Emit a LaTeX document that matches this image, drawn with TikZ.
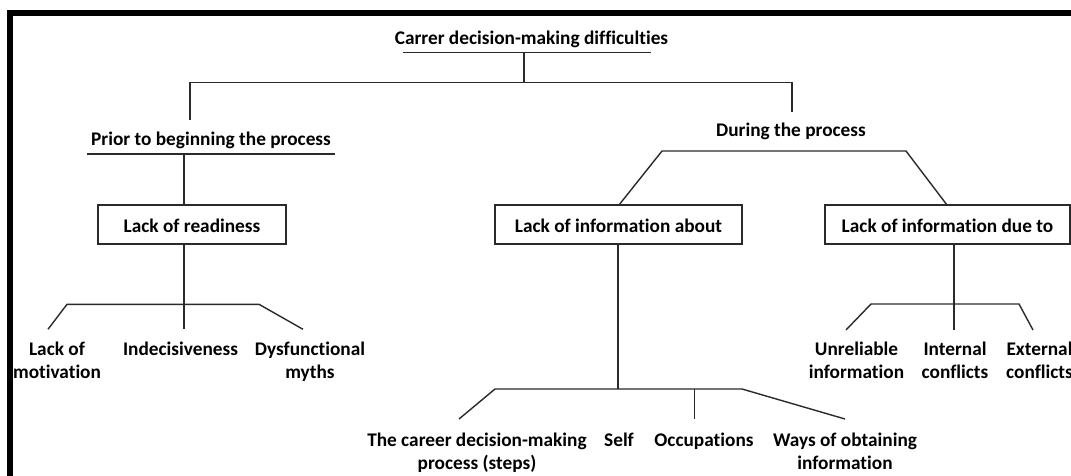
\documentclass[tikz,border=0pt]{standalone}
\usepackage{fontspec}
\setmainfont[Ligatures=NoCommon]{Carlito}
\newcommand{\twol}[2]{\begin{tabular}[t]{@{}c@{}}#1\\#2\end{tabular}}
\definecolor{linec}{HTML}{2A2A2A}
\begin{document}
\begin{tikzpicture}[x=1pt,y=-1pt,
  lbl/.style={inner sep=0pt, anchor=base, text=black, font=\fontsize{19.3}{23}\selectfont\bfseries},
  boxn/.style={lbl, draw=linec, line width=1.4pt, anchor=center, minimum width=#1, minimum height=39pt, text height=15pt, text depth=0pt},
  conn/.style={draw=linec, line width=1.4pt},
  frame/.style={draw=black, line width=6pt}]
\useasboundingbox (0,0) rectangle (1071,476);
\fill[white] (0,0) rectangle (1071,476);
% frame
\coordinate (fB) at (10.3,480);
\coordinate (fC) at (10.3,13.5);
\coordinate (fR) at (1076,13.5);
\draw[frame] (fB) -- (fC) -- (fR);

% root
\node[lbl] (root) at (531.5,45) {Carrer decision-making difficulties};
\coordinate (rU1) at (403,52.7); \coordinate (rU2) at (651,52.7);
\coordinate (rTop) at (524,52.7); \coordinate (rJ) at (524,82.7);
\coordinate (hL) at (190,82.7); \coordinate (hR) at (792,82.7);
\coordinate (pTop) at (190,120); \coordinate (dTop) at (792,112);
\draw[conn] (rU1) -- (rU2);
\draw[conn] (rTop) -- (rJ);
\draw[conn] (pTop) -- (hL) -- (hR) -- (dTop);

% prior branch
\node[lbl] (prior) at (211,146) {Prior to beginning the process};
\coordinate (pU1) at (87,154); \coordinate (pU2) at (335,154); \coordinate (pJ) at (184,154);
\draw[conn] (pU1) -- (pU2);
\node[boxn=188pt] (ready) at (192,224.5) {Lack of readiness};
\draw[conn] (pJ) -- (pJ |- ready.north);
\coordinate (rdJ) at (184,304.3);
\coordinate (rdL) at (67,304.3); \coordinate (rdR) at (259,304.3);
\coordinate (rdLe) at (48,329.3); \coordinate (rdMe) at (184,329.3); \coordinate (rdRe) at (303,329.3);
\draw[conn] (pJ |- ready.south) -- (rdMe);
\draw[conn] (rdLe) -- (rdL) -- (rdR) -- (rdRe);
\node[lbl] (motiv) at (57,355) {\twol{Lack of}{motivation}};
\node[lbl] (indec) at (180.5,355) {Indecisiveness};
\node[lbl] (myths) at (310,355) {\twol{Dysfunctional}{myths}};

% during branch
\node[lbl] (during) at (791,137) {During the process};
\coordinate (dL) at (662,151); \coordinate (dR) at (906,151);
\node[boxn=247pt] (about) at (618.5,224.5) {Lack of information about};
\node[boxn=245pt] (dueto) at (947.5,224.5) {Lack of information due to};
\coordinate (aTop) at (619,205); \coordinate (uTop) at (947,205);
\draw[conn] (aTop) -- (dL) -- (dR) -- (uTop);

% about children
\coordinate (abJ) at (618,389);
\coordinate (abL) at (495,389); \coordinate (abR) at (742,389);
\coordinate (abLe) at (459,419); \coordinate (abMt) at (694.6,389); \coordinate (abMe) at (694.6,419);
\coordinate (abRe) at (845,419);
\draw[conn] (abJ |- about.south) -- (abJ);
\draw[conn] (abLe) -- (abL) -- (abR) -- (abRe);
\draw[conn] (abMt) -- (abMe);
\node[lbl] (steps) at (477,446) {\twol{The career decision-making}{process (steps)}};
\node[lbl] (self) at (619,446) {Self};
\node[lbl] (occup) at (704,446) {Occupations};
\node[lbl] (ways) at (845,446) {\twol{Ways of obtaining}{information}};

% due-to children
\coordinate (duJ) at (954,304);
\coordinate (duL) at (871,304); \coordinate (duR) at (1019,304);
\coordinate (duLe) at (846,330); \coordinate (duMe) at (954,330); \coordinate (duRe) at (1033,330);
\draw[conn] (duJ |- dueto.south) -- (duMe);
\draw[conn] (duLe) -- (duL) -- (duR) -- (duRe);
\node[lbl] (unrel) at (856.5,355) {\twol{Unreliable}{information}};
\node[lbl] (inter) at (955,355) {\twol{Internal}{conflicts}};
\node[lbl, anchor=base west] (exter) at (1006,355) {\twol{External}{conflicts}};
\end{tikzpicture}
\end{document}
